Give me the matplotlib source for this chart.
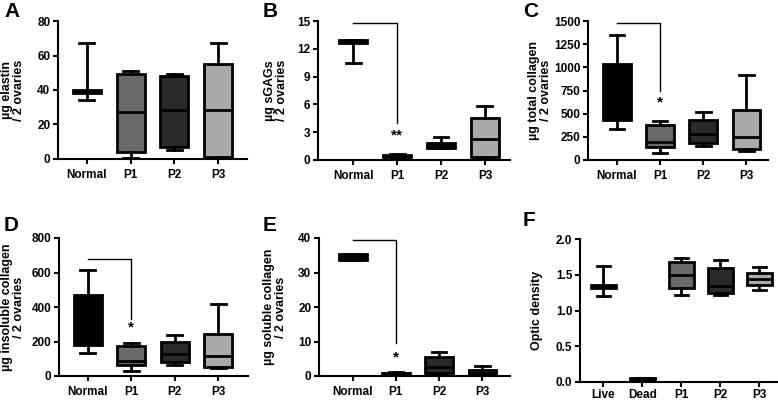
import matplotlib
matplotlib.use("Agg")
import matplotlib.pyplot as plt

plt.rcParams['font.family'] = ['Liberation Sans', 'DejaVu Sans']
plt.rcParams['font.weight'] = 'bold'

# ---- data (whislo, q1, med, q3, whishi) ----
cats4 = ["Normal", "P1", "P2", "P3"]
catsF = ["Live", "Dead", "P1", "P2", "P3"]

elastin_lo = [34, 0.5, 5.5, 0]
elastin_q1 = [38, 4, 7, 1]
elastin_med = [39, 27.5, 28.5, 28.5]
elastin_q3 = [40, 49.5, 48, 55]
elastin_hi = [67, 51, 49, 67]

sgag_lo = [10.5, 0.25, 1.3, 0.1]
sgag_q1 = [12.6, 0.3, 1.3, 0.3]
sgag_med = [12.8, 0.45, 1.5, 2.3]
sgag_q3 = [13.0, 0.55, 1.8, 4.5]
sgag_hi = [13.0, 0.6, 2.5, 5.8]

tcol_lo = [330, 75, 150, 100]
tcol_q1 = [430, 140, 185, 120]
tcol_med = [700, 190, 280, 250]
tcol_q3 = [1040, 380, 430, 540]
tcol_hi = [1350, 420, 520, 915]

icol_lo = [135, 30, 65, 45]
icol_q1 = [180, 65, 80, 55]
icol_med = [300, 85, 130, 115]
icol_q3 = [470, 175, 195, 245]
icol_hi = [615, 190, 240, 415]

scol_lo = [33.5, 0.3, 0.5, 0.3]
scol_q1 = [33.6, 0.5, 1.0, 0.5]
scol_med = [34.5, 0.8, 2.5, 1.0]
scol_q3 = [35.4, 1.0, 5.5, 1.8]
scol_hi = [35.5, 1.3, 7.0, 3.0]

od_lo = [1.20, 0.02, 1.21, 1.22, 1.29]
od_q1 = [1.31, 0.02, 1.32, 1.25, 1.36]
od_med = [1.33, 0.04, 1.50, 1.34, 1.44]
od_q3 = [1.36, 0.06, 1.68, 1.60, 1.53]
od_hi = [1.62, 0.06, 1.73, 1.71, 1.61]

# bracket tops / drops and star labels (data units)
brackets = {
    "B": (14.8, 4.0, 2.6, "**"),
    "C": (1480, 750, 620, "*"),
    "D": (680, 330, 280, "*"),
    "E": (39.5, 9.5, 5.5, "*"),
}

col4 = ["#000000", "#6a6a6a", "#2a2a2a", "#a9a9a9"]
colF = ["#ffffff", "#000000", "#6a6a6a", "#2a2a2a", "#a9a9a9"]

W, H = 778, 403
fig = plt.figure(figsize=(W / 100, H / 100), dpi=100)


def axpx(l, r, t, b):
    return fig.add_axes([l / W, (H - b) / H, (r - l) / W, (b - t) / H])


def panel(ax, cats, lo, q1, med, q3, hi, colors, ylim, yticks, ylabel,
          xlim, yfmt=None, xpad=4):
    stats = []
    for i, c in enumerate(cats):
        stats.append(dict(label=c, whislo=lo[i], q1=q1[i], med=med[i],
                          q3=q3[i], whishi=hi[i], fliers=[]))
    lw = 2.0
    bp = ax.bxp(stats, positions=range(len(cats)), widths=0.64,
                patch_artist=True, showfliers=False,
                boxprops=dict(linewidth=lw, edgecolor="black"),
                medianprops=dict(color="black", linewidth=lw),
                whiskerprops=dict(color="black", linewidth=lw),
                capprops=dict(color="black", linewidth=lw),
                capwidths=0.34)
    for p, c in zip(bp["boxes"], colors):
        p.set_facecolor(c)
    ax.set_ylim(*ylim)
    ax.set_xlim(*xlim)
    ax.set_yticks(yticks)
    if yfmt:
        ax.set_yticklabels([yfmt.format(v) for v in yticks])
    ax.set_xticks(range(len(cats)))
    ax.set_xticklabels(cats)
    for s in ["top", "right"]:
        ax.spines[s].set_visible(False)
    for s in ["left", "bottom"]:
        ax.spines[s].set_linewidth(1.5)
    ax.tick_params(axis="both", width=1.5, length=3.5, labelsize=8.5,
                   pad=2)
    ax.tick_params(axis="x", pad=xpad)
    ax.set_ylabel(ylabel, fontsize=9, fontweight="bold", linespacing=1.0)
    for t in ax.get_xticklabels() + ax.get_yticklabels():
        t.set_fontweight("bold")


def bracket(ax, key):
    top, drop, sy, txt = brackets[key]
    ax.plot([0, 1, 1], [top, top, drop], color="black", linewidth=1.0,
            clip_on=False)
    ax.text(1, sy, txt, ha="center", va="center", fontsize=11,
            fontweight="bold")


axA = axpx(58, 247, 21, 159)
panel(axA, cats4, elastin_lo, elastin_q1, elastin_med, elastin_q3,
      elastin_hi, col4, (0, 80), [0, 20, 40, 60, 80],
      "µg elastin\n/ 2 ovaries", (-0.66, 3.66))

axB = axpx(318, 510, 21, 160)
panel(axB, cats4, sgag_lo, sgag_q1, sgag_med, sgag_q3, sgag_hi, col4,
      (0, 15), [0, 3, 6, 9, 12, 15], "µg sGAGs\n/ 2 ovaries", (-0.8, 3.57))
bracket(axB, "B")

axC = axpx(588, 768, 21, 160)
panel(axC, cats4, tcol_lo, tcol_q1, tcol_med, tcol_q3, tcol_hi, col4,
      (0, 1500), [0, 250, 500, 750, 1000, 1250, 1500],
      "µg total collagen\n/ 2 ovaries", (-0.67, 3.5))
bracket(axC, "C")

axD = axpx(59, 248, 238, 376)
panel(axD, cats4, icol_lo, icol_q1, icol_med, icol_q3, icol_hi, col4,
      (0, 800), [0, 200, 400, 600, 800],
      "µg insoluble collagen\n/ 2 ovaries", (-0.66, 3.68))
bracket(axD, "D")

axE = axpx(319, 510, 238, 376)
panel(axE, cats4, scol_lo, scol_q1, scol_med, scol_q3, scol_hi, col4,
      (0, 40), [0, 10, 20, 30, 40],
      "µg soluble collagen\n/ 2 ovaries", (-0.78, 3.64))
bracket(axE, "E")

axF = axpx(580, 777, 239, 382)
panel(axF, catsF, od_lo, od_q1, od_med, od_q3, od_hi, colF,
      (0, 2.0), [0.0, 0.5, 1.0, 1.5, 2.0], "Optic density",
      (-0.6, 4.45), yfmt="{:.1f}", xpad=1.5)

label_x = {axA: -0.175, axB: -0.156, axC: -0.2, axD: -0.18, axE: -0.168,
           axF: -0.188}
for ax, lx in label_x.items():
    ax.yaxis.set_label_coords(lx, 0.5)

for lbl, x, y in [("A", 4, 2), ("B", 263, 2), ("C", 523, 2),
                  ("D", 4, 216), ("E", 263, 216), ("F", 523, 211)]:
    fig.text(x / W, 1 - y / H, lbl, fontsize=15, fontweight="bold",
             ha="left", va="top")

fig.savefig("out.png", dpi=100)
